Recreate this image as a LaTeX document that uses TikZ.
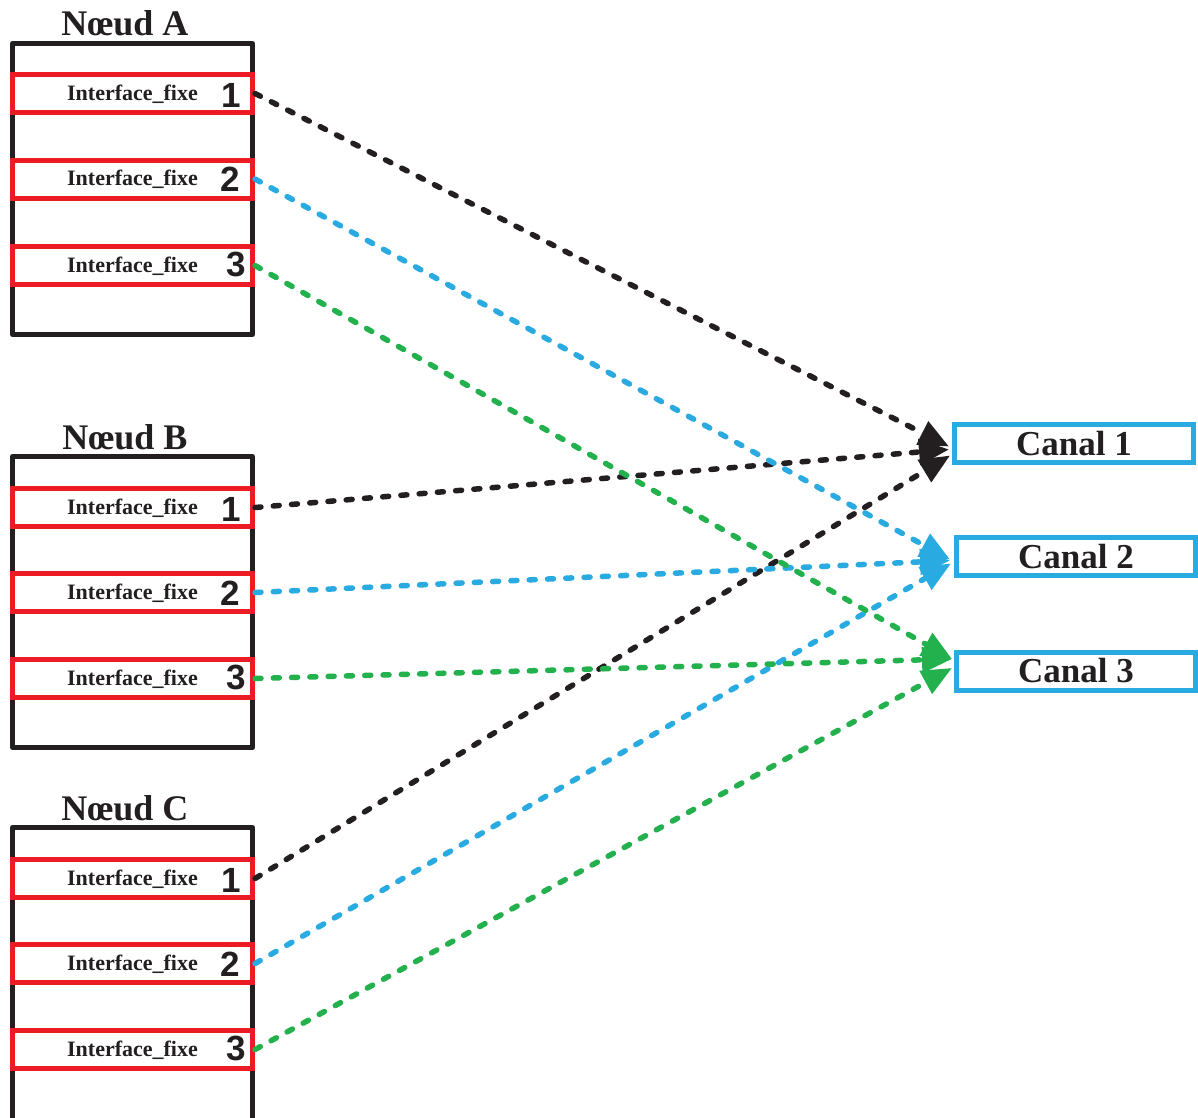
\documentclass[tikz,border=0pt]{standalone}
\usepackage{fontspec}
\setmainfont{Liberation Serif}
\newfontfamily\numfont{Liberation Sans}
\usetikzlibrary{arrows.meta,calc}
\definecolor{kblack}{HTML}{231F20}
\definecolor{kred}{HTML}{ED1C24}
\definecolor{kblue}{HTML}{29ABE2}
\definecolor{kgreen}{HTML}{22B14C}
\begin{document}
\begin{tikzpicture}[x=1pt,y=-1pt,
  frame/.style={draw=kblack,line width=5pt,line join=round},
  iface/.style={draw=kred,fill=white,line width=5pt,minimum width=240pt,minimum height=38pt,inner sep=0pt},
  ifacetext/.style={font=\bfseries\fontsize{22}{22}\selectfont,text=kblack,anchor=base,inner sep=0pt},
  numtext/.style={font=\numfont\bfseries\fontsize{35}{35}\selectfont,text=kblack,anchor=base,inner sep=0pt},
  nodetitle/.style={font=\bfseries\fontsize{36}{36}\selectfont,text=kblack,anchor=base,inner sep=0pt},
  canal/.style={draw=kblue,fill=white,line width=5pt,minimum width=239pt,minimum height=38pt,inner sep=0pt,font=\bfseries\fontsize{35}{35}\selectfont,text=kblack},
  link/.style={line width=5.5pt,line cap=round,dash pattern=on 6pt off 12.3pt,-{Triangle[length=30pt,width=25pt]}}
]
\useasboundingbox (0,0) rectangle (1198,1117);
\fill[white] (0,0) rectangle (1198,1117);

% frames of the nodes
\draw[frame] (12.5,43.5) rectangle (252.5,334.5);
\draw[frame] (12.5,456.5) rectangle (252.5,747.5);
\draw[frame] (12.5,1125) -- (12.5,827.5) -- (252.5,827.5) -- (252.5,1125);

% titles
\node[nodetitle] (tA) at (125,35) {Nœud A};
\node[nodetitle] (tB) at (125,449) {Nœud B};
\node[nodetitle] (tC) at (125,820) {Nœud C};

% interfaces
\foreach \n/\y in {A1/93.5,A2/179,A3/265.5,B1/507.5,B2/592.5,B3/678.5,C1/878.5,C2/963.5,C3/1049.5}{
  \node[iface] (\n) at (132.5,\y) {};
  \node[ifacetext] (\n t) at (132.5,\y+6.5) {Interface\_fixe};
}
\path (A1) ++(98.5,14) node[numtext] (A1n) {1};
\path (A2) ++(97.5,12.5) node[numtext] (A2n) {2};
\path (A3) ++(103.5,11) node[numtext] (A3n) {3};
\path (B1) ++(98.5,14) node[numtext] (B1n) {1};
\path (B2) ++(97.5,12.5) node[numtext] (B2n) {2};
\path (B3) ++(103.5,11) node[numtext] (B3n) {3};
\path (C1) ++(98.5,14) node[numtext] (C1n) {1};
\path (C2) ++(97.5,12.5) node[numtext] (C2n) {2};
\path (C3) ++(103.5,11) node[numtext] (C3n) {3};

% canals
\node[canal] (c1) at (1074,443.5) {Canal 1};
\node[canal] (c2) at (1076,556.5) {Canal 2};
\node[canal] (c3) at (1076,671) {Canal 3};

% links to Canal 1
\draw[link,kblack] (A1.east) -- ($(c1.west)+(-3,3)$);
\draw[link,kblack] (B1.east) -- ($(c1.west)+(-3,6)$);
\draw[link,kblack] (C1.east) -- ($(c1.west)+(-2,12)$);
% links to Canal 2
\draw[link,kblue] (A2.east) -- ($(c2.west)+(-4,3)$);
\draw[link,kblue] (B2.east) -- ($(c2.west)+(-4,4)$);
\draw[link,kblue] (C2.east) -- ($(c2.west)+(-3,7)$);
% links to Canal 3
\draw[link,kgreen] (A3.east) -- ($(c3.west)+(-2,-12)$);
\draw[link,kgreen] (B3.east) -- ($(c3.west)+(-2,-12)$);
\draw[link,kgreen] (C3.east) -- ($(c3.west)+(-2,-3)$);
\end{tikzpicture}
\end{document}
